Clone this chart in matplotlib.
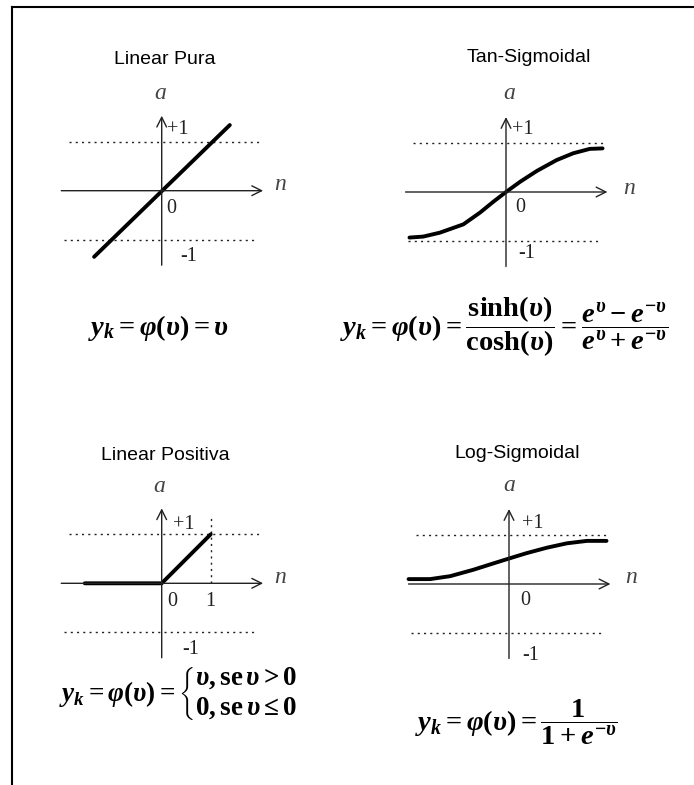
import matplotlib
matplotlib.use("Agg")
import matplotlib.pyplot as plt
from matplotlib.lines import Line2D

plt.rcParams['font.family'] = ['Liberation Sans', 'DejaVu Sans']
plt.rcParams['mathtext.fontset'] = 'custom'
plt.rcParams['mathtext.rm'] = 'Liberation Serif:bold'
plt.rcParams['mathtext.it'] = 'Liberation Serif:italic:bold'
plt.rcParams['mathtext.bf'] = 'Liberation Serif:bold'

# reference levels drawn as dotted lines
LEVELS = [1, -1]

# linear (identity) activation
PURA_X = [-1.38, 1.39]
PURA_Y = [-1.35, 1.34]

# hyperbolic tangent, sampled
TANH_X = [-1.97, -1.69, -1.35, -0.87, -0.53, -0.26, 0.0, 0.29, 0.63, 1.03, 1.37, 1.71, 1.97]
TANH_Y = [-0.93, -0.91, -0.83, -0.66, -0.42, -0.20, 0.0, 0.21, 0.43, 0.65, 0.79, 0.88, 0.89]

# positive linear (ramp)
POS_X = [-1.57, 0.0, 1.0]
POS_Y = [0.0, 0.0, 1.0]

# logistic sigmoid, sampled
LOG_X = [-2.05, -1.61, -1.20, -0.73, -0.32, 0.0, 0.36, 0.77, 1.18, 1.59, 1.99]
LOG_Y = [0.10, 0.10, 0.16, 0.29, 0.42, 0.52, 0.63, 0.74, 0.83, 0.88, 0.88]

TITLES = ["Linear Pura", "Tan-Sigmoidal", "Linear Positiva", "Log-Sigmoidal"]
FORMULAS = [
    r'$y_k = \varphi(\upsilon) = \upsilon$',
    r'$y_k = \varphi(\upsilon) = \dfrac{\mathrm{sinh}(\upsilon)}{\mathrm{cosh}(\upsilon)}'
    r' = \dfrac{e^{\upsilon} - e^{-\upsilon}}{e^{\upsilon} + e^{-\upsilon}}$',
    r'$y_k = \varphi(\upsilon) = \left\{\genfrac{}{}{0}{0}'
    r'{\upsilon, \mathrm{se}\,\upsilon > 0}{0, \mathrm{se}\,\upsilon \leq 0}\right.$',
    r'$y_k = \varphi(\upsilon) = \dfrac{1}{1 + e^{-\upsilon}}$',
]

W, H = 694, 785
U = 49.0  # pixels per unit on the small axes
INK = '#222222'

fig = plt.figure(figsize=(W / 100, H / 100), dpi=100)
fig.patch.set_facecolor('white')

# frame: top and left edges only
fig.add_artist(Line2D([12 / W, 1.0], [1 - 7 / H, 1 - 7 / H], color='black', lw=1.5))
fig.add_artist(Line2D([12 / W, 12 / W], [1 - 7 / H, 0.0], color='black', lw=1.5))


def make_axes(ox, oy):
    x0, x1, y0, y1 = -2.5, 2.8, -1.8, 2.3
    ax = fig.add_axes([(ox + x0 * U) / W, 1 - (oy - y0 * U) / H,
                       (x1 - x0) * U / W, (y1 - y0) * U / H])
    ax.set_xlim(x0, x1)
    ax.set_ylim(y0, y1)
    ax.axis('off')
    return ax


def draw_frame(ax, labels):
    arrow = dict(arrowstyle='->,head_length=0.7,head_width=0.35', color=INK, lw=1.0,
                 shrinkA=0, shrinkB=0)
    ax.annotate('', xy=(0, 1.53), xytext=(0, -1.52), arrowprops=arrow)
    ax.annotate('', xy=(2.07, 0), xytext=(-2.05, 0), arrowprops=arrow)
    ax.plot([-1.9, 2.0], [LEVELS[0]] * 2, color=INK, lw=1.0, ls=(0, (1.5, 3)))
    ax.plot([-2.0, 1.93], [LEVELS[1]] * 2, color=INK, lw=1.0, ls=(0, (1.5, 3)))
    serif = dict(family='Liberation Serif', fontsize=14.5, color=INK, va='center')
    ax.text(*labels['a'], 'a', style='italic', ha='center',
            **dict(serif, fontsize=17, color='#444444'))
    ax.text(*labels['n'], 'n', style='italic', ha='left',
            **dict(serif, fontsize=17, color='#444444'))
    ax.text(*labels['+1'], '+1', ha='left', **serif)
    ax.text(*labels['0'], '0', ha='left', **serif)
    ax.text(*labels['-1'], '-1', ha='left', **serif)


# Linear Pura
ax1 = make_axes(161.7, 190.7)
draw_frame(ax1, {'a': (-0.04, 1.99), 'n': (2.3, 0.12), '+1': (0.11, 1.24),
                 '0': (0.09, -0.37), '-1': (0.37, -1.35)})
ax1.plot(PURA_X, PURA_Y, color='black', lw=2.8, solid_capstyle='round')

# Tan-Sigmoidal
ax2 = make_axes(506, 192)
draw_frame(ax2, {'a': (0.06, 2.02), 'n': (2.4, 0.08), '+1': (0.12, 1.27),
                 '0': (0.18, -0.31), '-1': (0.25, -1.26)})
ax2.plot(TANH_X, TANH_Y, color='black', lw=2.8, solid_capstyle='round')

# Linear Positiva
ax3 = make_axes(161.7, 583.3)
draw_frame(ax3, {'a': (-0.05, 1.97), 'n': (2.3, 0.11), '+1': (0.23, 1.19),
                 '0': (0.11, -0.38), '-1': (0.41, -1.36)})
ax3.plot([POS_X[-1]] * 2, [0, 1.39], color=INK, lw=1.0, ls=(0, (1.5, 3)))
ax3.text(POS_X[-1], -0.38, '1', family='Liberation Serif', fontsize=14.5, color=INK,
         ha='center', va='center')
ax3.plot(POS_X, POS_Y, color='black', lw=2.8, solid_capstyle='round')

# Log-Sigmoidal
ax4 = make_axes(509, 584)
draw_frame(ax4, {'a': (0.0, 2.02), 'n': (2.38, 0.14), '+1': (0.27, 1.24),
                 '0': (0.22, -0.33), '-1': (0.27, -1.45)})
ax4.plot(LOG_X, LOG_Y, color='black', lw=2.8, solid_capstyle='round')

# panel titles
title_pos = [(165, 59), (529, 58), (165, 456), (517, 453)]
for (tx, ty), title in zip(title_pos, TITLES):
    fig.text(tx / W, 1 - ty / H, title, fontsize=14, ha='center', va='center',
             color='black')

# formulas under each panel
formula_pos = [(159, 328), (504, 327), (178, 694), (516, 722)]
formula_size = [20.5, 20.5, 19.5, 20.5]
for (fx, fy), size, formula in zip(formula_pos, formula_size, FORMULAS):
    fig.text(fx / W, 1 - fy / H, formula, fontsize=size, ha='center', va='center',
             color='black')

fig.savefig("out.png", dpi=100, facecolor='white')
